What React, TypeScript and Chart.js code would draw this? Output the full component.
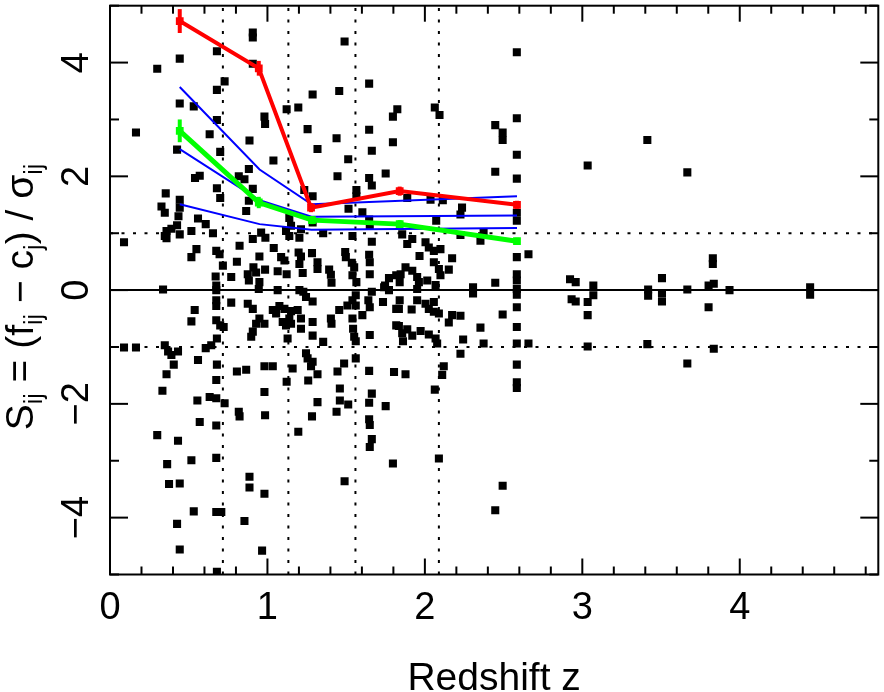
import React, { useEffect, useRef } from 'react';
import { Chart, registerables } from 'chart.js';

Chart.register(...registerables);

// ---- axis data ----
const xMin = 0;
const xMax = 4.88;
const yMin = -5;
const yMax = 5;
const xTickValues = [0, 1, 2, 3, 4];
const xTickLabels = ['0', '1', '2', '3', '4'];
const yTickValues = [-4, -2, 0, 2, 4];
const yTickLabels = ['−4', '−2', '0', '2', '4'];
const xTitle = 'Redshift z';

// ---- reference lines ----
const binEdgesZ = [0.717, 1.133, 1.559, 2.089];
const sigmaLevels = [1, -1];

// ---- binned means ----
const redZ = [0.443, 0.945, 1.277, 1.84, 2.585];
const redS = [4.73, 3.9, 1.45, 1.74, 1.5];
const redErr = [0.21, 0.13, 0.08, 0.08, 0.07];

const greenZ = [0.443, 0.945, 1.283, 1.84, 2.585];
const greenS = [2.8, 1.54, 1.23, 1.16, 0.86];
const greenErr = [0.2, 0.1, 0.07, 0.07, 0.06];

const blueZ = [0.443, 0.95, 1.28, 2.585];
const blueUpperS = [3.57, 2.12, 1.51, 1.65];
const blueMidS = [2.48, 1.58, 1.29, 1.31];
const blueLowS = [1.51, 1.16, 1.06, 1.09];

// ---- individual measurements [z, S] ----
const sourcesHigh: [number, number][] = [
  [0.907, 4.53], [0.907, 4.44], [0.679, 4.2], [0.443, 4.07], [0.3, 3.89], [1.49, 4.37], [0.907, 3.98],
  [0.728, 3.67], [0.679, 3.52], [1.646, 3.63], [1.287, 3.44], [1.456, 3.5], [0.443, 3.28], [0.532, 3.23],
  [1.122, 3.18], [1.196, 3.21], [1.797, 3.05], [1.825, 3.18], [0.679, 2.99], [0.981, 3.05], [0.985, 2.92],
  [0.165, 2.77], [0.633, 2.74], [1.255, 2.83], [1.646, 2.82], [0.886, 2.63], [1.439, 2.67], [1.797, 2.6],
  [0.426, 2.47], [0.7, 2.43], [1.318, 2.48], [1.663, 2.45], [1.038, 2.28], [1.513, 2.3], [0.882, 2.13],
  [0.54, 1.97], [0.57, 2.01], [0.818, 2.0], [0.854, 1.95], [1.445, 2.0], [1.646, 1.97], [1.751, 2.05],
  [0.679, 1.79], [0.907, 1.78], [0.354, 1.7], [0.443, 1.59], [0.7, 1.62], [1.234, 1.76], [1.287, 1.65],
  [1.565, 1.76], [1.565, 1.65], [1.663, 1.84], [0.882, 1.57],
  [2.584, 4.18], [2.063, 3.21], [2.093, 3.08], [2.584, 3.02], [2.447, 2.9], [2.494, 2.77], [2.494, 2.64],
  [2.584, 2.38], [2.447, 2.08], [2.584, 1.96], [1.888, 1.62], [2.036, 1.59], [2.114, 1.58],
  [3.413, 2.64], [3.034, 2.19], [3.667, 2.07],
];

const sourcesMid: [number, number][] = [
  [0.327, 1.47], [0.348, 1.36], [0.443, 1.45], [0.865, 1.39], [0.435, 1.3], [0.559, 1.26], [0.608, 1.16],
  [0.426, 1.14], [0.39, 1.08], [0.359, 1.04], [0.348, 0.95], [0.443, 0.98], [0.517, 1.04], [0.654, 1.0],
  [0.359, 0.91], [1.139, 1.27], [1.15, 1.13], [1.118, 1.04], [1.139, 0.95], [1.213, 1.07], [1.203, 0.92],
  [1.287, 1.19], [1.354, 1.0], [1.54, 0.95], [1.65, 1.13], [1.663, 0.85], [1.646, 1.24], [1.515, 1.43],
  [1.603, 1.37], [0.96, 1.01], [0.987, 0.92], [0.907, 0.9], [0.089, 0.84], [0.823, 0.78], [1.04, 0.74],
  [0.549, 0.72], [0.517, 0.58], [0.675, 0.69], [0.696, 0.63], [1.087, 0.58], [1.108, 0.52], [1.198, 0.66],
  [1.213, 0.59], [1.283, 0.65], [0.949, 0.59], [1.494, 0.67], [1.498, 0.58], [1.646, 0.62], [1.65, 0.49],
  [0.806, 0.5], [0.717, 0.43], [1.203, 0.46], [1.224, 0.3], [1.318, 0.49], [1.318, 0.37], [1.536, 0.48],
  [1.551, 0.4], [1.54, 0.26], [0.911, 0.4], [0.875, 0.28], [0.928, 0.31], [0.985, 0.36], [1.065, 0.33],
  [1.122, 0.28], [1.392, 0.36], [1.403, 0.27], [1.65, 0.28], [0.77, 0.23], [0.671, 0.24], [0.675, 0.08],
  [0.882, 0.17], [0.949, 0.14], [1.407, 0.13], [1.565, 0.14], [1.747, 0.08], [1.772, 0.0], [1.818, 0.26],
  [0.337, 0.01], [0.675, 0.0], [0.945, 0.02], [1.065, 0.0], [1.203, 0.0], [1.228, -0.03], [1.245, -0.12],
  [1.287, -0.2], [1.663, -0.03], [1.561, -0.09], [1.54, -0.18], [1.561, -0.27], [1.641, -0.18], [1.65, -0.3],
  [1.734, -0.21], [1.818, -0.33], [0.675, -0.18], [0.675, -0.28], [0.77, -0.22], [0.875, -0.24], [0.907, -0.33],
  [1.034, -0.35], [1.076, -0.28], [1.055, -0.41], [1.108, -0.33], [1.15, -0.37], [1.192, -0.35], [1.456, -0.35],
  [1.508, -0.27], [0.538, -0.35], [0.517, -0.55], [0.675, -0.53], [0.7, -0.62], [0.722, -0.65], [0.949, -0.5],
  [0.928, -0.59], [0.981, -0.59], [1.097, -0.56], [1.118, -0.62], [1.139, -0.5], [1.15, -0.59], [1.213, -0.5],
  [1.213, -0.68], [1.287, -0.56], [1.403, -0.5], [1.407, -0.59], [1.54, -0.5], [1.544, -0.68], [1.603, -0.44],
  [1.818, -0.62], [0.907, -0.73], [0.897, -0.82], [1.128, -0.85], [1.287, -0.8], [1.354, -0.91], [1.551, -0.82],
  [1.561, -0.9], [1.65, -0.79], [0.679, -0.85],
  [2.236, 1.45], [2.226, 1.33], [2.584, 1.36], [2.584, 1.22], [2.072, 1.22], [2.226, 0.97], [1.856, 0.98],
  [2.373, 1.01], [2.353, 0.87], [1.888, 0.81], [1.92, 0.9], [2.004, 0.84], [2.025, 0.75], [2.057, 0.69],
  [2.099, 0.72], [1.966, 0.6], [2.173, 0.56], [2.057, 0.49], [2.089, 0.37], [2.152, 0.36], [2.099, 0.26],
  [1.877, 0.4], [1.92, 0.34], [1.846, 0.28], [1.951, 0.23], [1.962, 0.14], [2.015, 0.17], [1.772, 0.21],
  [1.84, 0.14], [2.068, 0.09], [1.741, 0.05], [1.951, 0.02], [1.951, -0.18], [2.306, 0.05], [2.306, -0.06],
  [2.447, 0.13], [2.584, 0.28], [2.584, 0.17], [2.584, 0.02], [2.584, -0.08], [2.584, 0.58], [2.658, 0.63],
  [2.922, 0.19], [2.932, -0.16], [1.84, -0.18], [1.835, -0.33], [1.916, -0.34], [2.004, -0.24], [2.057, -0.21],
  [2.025, -0.33], [2.057, -0.38], [2.089, -0.41], [2.173, -0.44], [2.226, -0.45], [2.152, -0.57], [2.494, -0.43],
  [2.584, -0.3], [2.353, -0.66], [1.835, -0.63], [1.888, -0.69], [1.856, -0.76], [1.92, -0.8], [1.973, -0.72],
  [2.025, -0.78], [2.068, -0.85], [1.861, -0.9], [2.078, -0.94], [2.243, -0.87], [2.584, -0.65], [2.584, -0.94],
  [2.373, -0.94], [2.658, -0.94],
  [3.829, 0.56], [3.829, 0.46], [2.958, 0.14], [3.07, 0.08], [3.07, -0.09], [2.958, -0.2], [3.034, -0.21],
  [3.034, -0.44], [3.034, -0.99], [3.418, 0.01], [3.418, -0.1], [3.506, 0.21], [3.506, -0.06], [3.506, -0.2],
  [3.667, 0.01], [3.802, 0.08], [3.835, 0.11], [3.802, -0.3], [3.935, 0.0], [4.447, 0.05], [4.447, -0.08],
  [3.413, -0.95], [3.835, -1.03],
];

const sourcesLow: [number, number][] = [
  [0.089, -1.01], [0.165, -1.01], [0.348, -0.97], [0.369, -1.08], [0.39, -1.14], [0.432, -1.08], [0.608, -1.02],
  [0.643, -0.97], [0.559, -1.23], [0.679, -1.31], [0.405, -1.31], [0.359, -1.48], [0.806, -1.43], [0.865, -1.4],
  [0.981, -1.34], [1.034, -1.34], [1.16, -1.38], [1.245, -1.11], [1.255, -1.2], [1.277, -1.34], [1.287, -1.26],
  [1.318, -1.48], [1.445, -1.43], [1.487, -1.29], [1.561, -1.2], [1.646, -1.42], [1.804, -1.44],
  [0.675, -1.58], [1.122, -1.61], [1.259, -1.59], [0.333, -1.77], [0.981, -1.79], [1.46, -1.73], [1.663, -1.82],
  [0.555, -1.94], [0.633, -1.88], [0.675, -1.9], [0.728, -1.99], [1.318, -1.97], [1.46, -1.94], [1.513, -2.01],
  [1.646, -1.98], [1.751, -2.04], [0.818, -2.14], [0.823, -2.22], [0.985, -2.2], [1.283, -2.22], [1.439, -2.14],
  [1.646, -2.27], [1.65, -2.37], [0.57, -2.32], [0.675, -2.38], [0.3, -2.55], [0.432, -2.65], [1.196, -2.49],
  [1.663, -2.62], [1.65, -2.76], [0.363, -3.06], [0.517, -2.99], [0.675, -2.95], [1.797, -3.05], [0.886, -3.28],
  [0.886, -3.47], [0.375, -3.41], [0.443, -3.4], [1.49, -3.36], [0.981, -3.58], [0.532, -3.89], [0.675, -3.9],
  [0.707, -3.9], [0.426, -4.11], [0.854, -4.06], [0.443, -4.56], [0.966, -4.58], [0.679, -4.95],
  [2.226, -1.12], [2.584, -1.31], [1.877, -1.48], [2.12, -1.34], [2.11, -1.49], [2.584, -1.62], [2.584, -1.72],
  [2.063, -1.75], [2.089, -2.96], [2.494, -3.44], [2.447, -3.87], [3.667, -1.29],
];

const FONT = '"Liberation Sans", Arial, Helvetica, sans-serif';

const toXY = (zs: number[], ss: number[]) => zs.map((z, i) => ({ x: z, y: ss[i] }));

const decorPlugin = {
  id: 'decor',
  afterDatasetsDraw(chart: any) {
    const { ctx, scales } = chart;
    const x = scales.x;
    const y = scales.y;
    const drawErr = (zs: number[], ss: number[], es: number[], color: string) => {
      ctx.save();
      ctx.strokeStyle = color;
      ctx.lineWidth = 4;
      zs.forEach((z, i) => {
        const px = x.getPixelForValue(z);
        ctx.beginPath();
        ctx.moveTo(px, y.getPixelForValue(ss[i] - es[i]));
        ctx.lineTo(px, y.getPixelForValue(ss[i] + es[i]));
        ctx.stroke();
      });
      ctx.restore();
    };
    drawErr(greenZ, greenS, greenErr, '#00ff00');
    drawErr(redZ, redS, redErr, '#ff0000');
  },
  afterDraw(chart: any) {
    const { ctx, chartArea: a, scales } = chart;
    const x = scales.x;
    const y = scales.y;
    ctx.save();
    ctx.strokeStyle = '#000';
    ctx.fillStyle = '#000';
    ctx.lineWidth = 2;
    ctx.strokeRect(a.left, a.top, a.right - a.left, a.bottom - a.top);
    const seg = (x1: number, y1: number, x2: number, y2: number) => {
      ctx.beginPath();
      ctx.moveTo(x1, y1);
      ctx.lineTo(x2, y2);
      ctx.stroke();
    };
    // x ticks (inward, mirrored)
    for (let i = 0; i * 0.2 <= xMax + 1e-9; i++) {
      const v = i * 0.2;
      const px = x.getPixelForValue(v);
      const len = i % 5 === 0 ? 16 : 8;
      seg(px, a.bottom, px, a.bottom - len);
      seg(px, a.top, px, a.top + len);
    }
    // y ticks
    for (let v = yMin; v <= yMax; v++) {
      const py = y.getPixelForValue(v);
      const len = v % 2 === 0 ? 18 : 9;
      seg(a.left, py, a.left + len, py);
      seg(a.right, py, a.right - len, py);
    }
    // x tick labels
    ctx.font = `38px ${FONT}`;
    ctx.textAlign = 'center';
    ctx.textBaseline = 'alphabetic';
    xTickValues.forEach((v, i) => {
      ctx.fillText(xTickLabels[i], x.getPixelForValue(v), a.bottom + 44);
    });
    // y tick labels (rotated)
    yTickValues.forEach((v, i) => {
      ctx.save();
      ctx.translate(a.left - 22, y.getPixelForValue(v));
      ctx.rotate(-Math.PI / 2);
      ctx.fillText(yTickLabels[i], 0, 0);
      ctx.restore();
    });
    // x title
    ctx.font = `39px ${FONT}`;
    ctx.fillText(xTitle, (a.left + a.right) / 2, a.bottom + 115);
    // y title with subscripts
    const parts: [string, boolean][] = [
      ['S', false], ['ij', true], [' = (f', false], ['ij', true], [' − c', false], ['j', true], [') / σ', false], ['ij', true],
    ];
    const mainFont = `39px ${FONT}`;
    const subFont = `25px ${FONT}`;
    let total = 0;
    parts.forEach(([t, sub]) => {
      ctx.font = sub ? subFont : mainFont;
      total += ctx.measureText(t).width;
    });
    ctx.save();
    ctx.translate(33, 297 + total / 2);
    ctx.rotate(-Math.PI / 2);
    ctx.textAlign = 'left';
    let cur = 0;
    parts.forEach(([t, sub]) => {
      ctx.font = sub ? subFont : mainFont;
      ctx.fillText(t, cur, sub ? 9 : 0);
      cur += ctx.measureText(t).width;
    });
    ctx.restore();
    ctx.restore();
  },
};

export default function App() {
  const canvasRef = useRef<HTMLCanvasElement | null>(null);

  useEffect(() => {
    document.body.style.margin = '0';
    const canvas = canvasRef.current;
    if (!canvas) return;

    const refLines: any[] = [];
    sigmaLevels.forEach((s) => {
      refLines.push({
        data: [{ x: xMin, y: s }, { x: xMax, y: s }],
        borderColor: '#000',
        borderWidth: 2,
        borderDash: [3, 8.5],
        showLine: true,
        pointRadius: 0,
        order: 20,
      });
    });
    refLines.push({
      data: [{ x: xMin, y: 0 }, { x: xMax, y: 0 }],
      borderColor: '#000',
      borderWidth: 2,
      showLine: true,
      pointRadius: 0,
      order: 20,
    });
    binEdgesZ.forEach((z) => {
      refLines.push({
        data: [{ x: z, y: yMin }, { x: z, y: yMax }],
        borderColor: '#000',
        borderWidth: 2,
        borderDash: [3, 8.5],
        showLine: true,
        pointRadius: 0,
        order: 20,
      });
    });

    const allSources = [...sourcesHigh, ...sourcesMid, ...sourcesLow].map(([z, s]) => ({ x: z, y: s }));

    const blueLine = (ss: number[]) => ({
      data: toXY(blueZ, ss),
      borderColor: '#0000ff',
      borderWidth: 2,
      showLine: true,
      pointRadius: 0,
      order: 3,
    });

    const chart = new Chart(canvas, {
      type: 'scatter',
      data: {
        datasets: [
          ...refLines,
          {
            data: allSources,
            pointStyle: 'rect',
            pointRadius: 5.7,
            pointBackgroundColor: '#000',
            pointBorderWidth: 0,
            showLine: false,
            order: 10,
          },
          blueLine(blueUpperS),
          blueLine(blueMidS),
          blueLine(blueLowS),
          {
            data: toXY(greenZ, greenS),
            borderColor: '#00ff00',
            borderWidth: 5,
            showLine: true,
            pointStyle: 'rect',
            pointRadius: 5.5,
            pointBackgroundColor: '#00ff00',
            pointBorderWidth: 0,
            order: 2,
          },
          {
            data: toXY(redZ, redS),
            borderColor: '#ff0000',
            borderWidth: 4,
            showLine: true,
            pointStyle: 'rect',
            pointRadius: 5.5,
            pointBackgroundColor: '#ff0000',
            pointBorderWidth: 0,
            order: 1,
          },
        ],
      },
      options: {
        animation: false,
        responsive: false,
        events: [],
        layout: { padding: { left: 110, right: 2.3, top: 1.7, bottom: 117.5 } },
        plugins: { legend: { display: false }, tooltip: { enabled: false } },
        scales: {
          x: { type: 'linear', min: xMin, max: xMax, display: false },
          y: { type: 'linear', min: yMin, max: yMax, display: false },
        },
      },
      plugins: [decorPlugin],
    });

    return () => chart.destroy();
  }, []);

  return (
    <div style={{ width: 884, height: 692 }}>
      <canvas ref={canvasRef} width={884} height={692} style={{ display: 'block' }} />
    </div>
  );
}
